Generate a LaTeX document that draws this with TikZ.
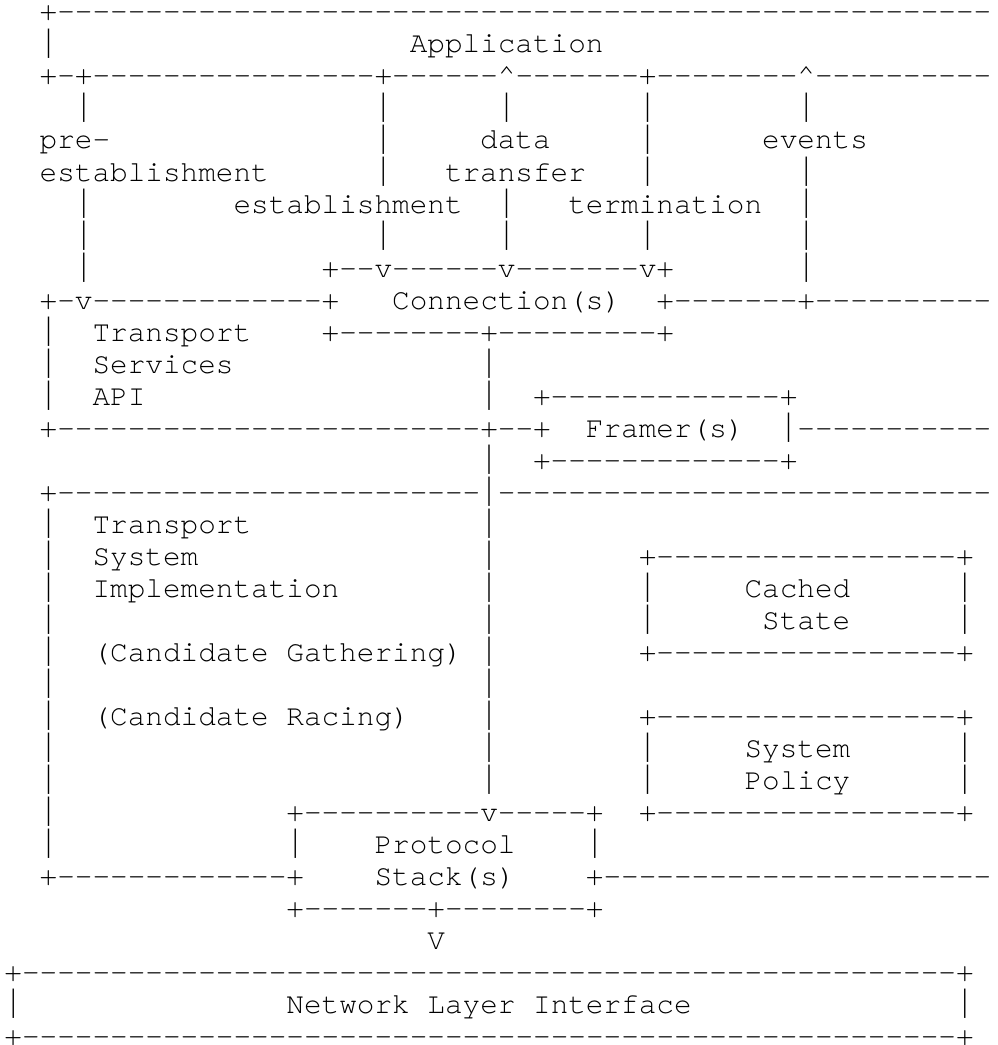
\documentclass[tikz,border=0pt]{standalone}
\usepackage{fontspec}
\setmonofont{texgyrecursor-regular.otf}
\newfontfamily\barfont{DejaVuSans-ExtraLight.ttf}
\ExplSyntaxOn
\cs_new:Npn \dsh #1 { \prg_replicate:nn {#1} {-} }
\ExplSyntaxOff
\newcommand\crt{\char"5E\relax}
% tall thin vertical bar, as in Courier New
\newcommand\vb{\makebox[17.62pt]{\raisebox{1.8pt}{\barfont|}}}
\tikzset{asc/.style={anchor=base west, inner sep=0pt, outer sep=0pt,
  font=\ttfamily\fontsize{29.37pt}{32pt}\selectfont, text=black}}
\newcommand\putc[3]{\node[asc] (t#1x#2) at ({4.5pt+17.62pt*#2},{-20.85pt-32.03pt*#1}) {#3};}
\begin{document}
\begin{tikzpicture}
\path[use as bounding box] (0,0) rectangle (997pt,-1045pt);
\fill[white] (0,0) rectangle (997pt,-1045pt);
\clip (0,0) rectangle (997pt,-1045pt);
% Application box
\putc{0}{2}{+\dsh{53}}
\putc{1}{2}{\vb}\putc{1}{23}{Application}
\putc{2}{2}{+-+\dsh{16}+\dsh{6}\crt\dsh{7}+\dsh{8}\crt\dsh{10}}
% interface arrows
\putc{3}{4}{\vb}\putc{3}{21}{\vb}\putc{3}{28}{\vb}\putc{3}{36}{\vb}\putc{3}{45}{\vb}
\putc{4}{2}{pre-}\putc{4}{21}{\vb}\putc{4}{27}{data}\putc{4}{36}{\vb}\putc{4}{43}{events}
\putc{5}{2}{establishment}\putc{5}{21}{\vb}\putc{5}{25}{transfer}\putc{5}{36}{\vb}\putc{5}{45}{\vb}
\putc{6}{4}{\vb}\putc{6}{13}{establishment}\putc{6}{28}{\vb}\putc{6}{32}{termination}\putc{6}{45}{\vb}
\putc{7}{4}{\vb}\putc{7}{21}{\vb}\putc{7}{28}{\vb}\putc{7}{36}{\vb}\putc{7}{45}{\vb}
\putc{8}{4}{\vb}\putc{8}{18}{+\dsh{2}v\dsh{6}v\dsh{7}v+}\putc{8}{45}{\vb}
% Transport Services API
\putc{9}{2}{+-v\dsh{13}+}\putc{9}{22}{Connection(s)}\putc{9}{37}{+\dsh{7}+\dsh{10}}
\putc{10}{2}{\vb}\putc{10}{5}{Transport}\putc{10}{18}{+\dsh{8}+\dsh{9}+}
\putc{11}{2}{\vb}\putc{11}{5}{Services}\putc{11}{27}{\vb}
\putc{12}{2}{\vb}\putc{12}{5}{API}\putc{12}{27}{\vb}\putc{12}{30}{+\dsh{13}+}
\putc{13}{2}{+\dsh{24}+\dsh{2}+}\putc{13}{33}{Framer(s)}\putc{13}{44}{\vb\dsh{11}}
\putc{14}{27}{\vb}\putc{14}{30}{+\dsh{13}+}
% Transport System Implementation
\putc{15}{2}{+\dsh{24}\vb\dsh{28}}
\putc{16}{2}{\vb}\putc{16}{5}{Transport}\putc{16}{27}{\vb}
\putc{17}{2}{\vb}\putc{17}{5}{System}\putc{17}{27}{\vb}\putc{17}{36}{+\dsh{17}+}
\putc{18}{2}{\vb}\putc{18}{5}{Implementation}\putc{18}{27}{\vb}\putc{18}{36}{\vb}\putc{18}{42}{Cached}\putc{18}{54}{\vb}
\putc{19}{2}{\vb}\putc{19}{27}{\vb}\putc{19}{36}{\vb}\putc{19}{43}{State}\putc{19}{54}{\vb}
\putc{20}{2}{\vb}\putc{20}{5}{(Candidate Gathering)}\putc{20}{27}{\vb}\putc{20}{36}{+\dsh{17}+}
\putc{21}{2}{\vb}\putc{21}{27}{\vb}
\putc{22}{2}{\vb}\putc{22}{5}{(Candidate Racing)}\putc{22}{27}{\vb}\putc{22}{36}{+\dsh{17}+}
\putc{23}{2}{\vb}\putc{23}{27}{\vb}\putc{23}{36}{\vb}\putc{23}{42}{System}\putc{23}{54}{\vb}
\putc{24}{2}{\vb}\putc{24}{27}{\vb}\putc{24}{36}{\vb}\putc{24}{42}{Policy}\putc{24}{54}{\vb}
\putc{25}{2}{\vb}\putc{25}{16}{+\dsh{10}v\dsh{5}+}\putc{25}{36}{+\dsh{17}+}
\putc{26}{2}{\vb}\putc{26}{16}{\vb}\putc{26}{21}{Protocol}\putc{26}{33}{\vb}
\putc{27}{2}{+\dsh{13}+}\putc{27}{21}{Stack(s)}\putc{27}{33}{+\dsh{22}}
\putc{28}{16}{+\dsh{7}+\dsh{8}+}
\putc{29}{24}{V}
% Network Layer Interface
\putc{30}{0}{+\dsh{53}+}
\putc{31}{0}{\vb}\putc{31}{16}{Network Layer Interface}\putc{31}{54}{\vb}
\putc{32}{0}{+\dsh{53}+}
\end{tikzpicture}
\end{document}
